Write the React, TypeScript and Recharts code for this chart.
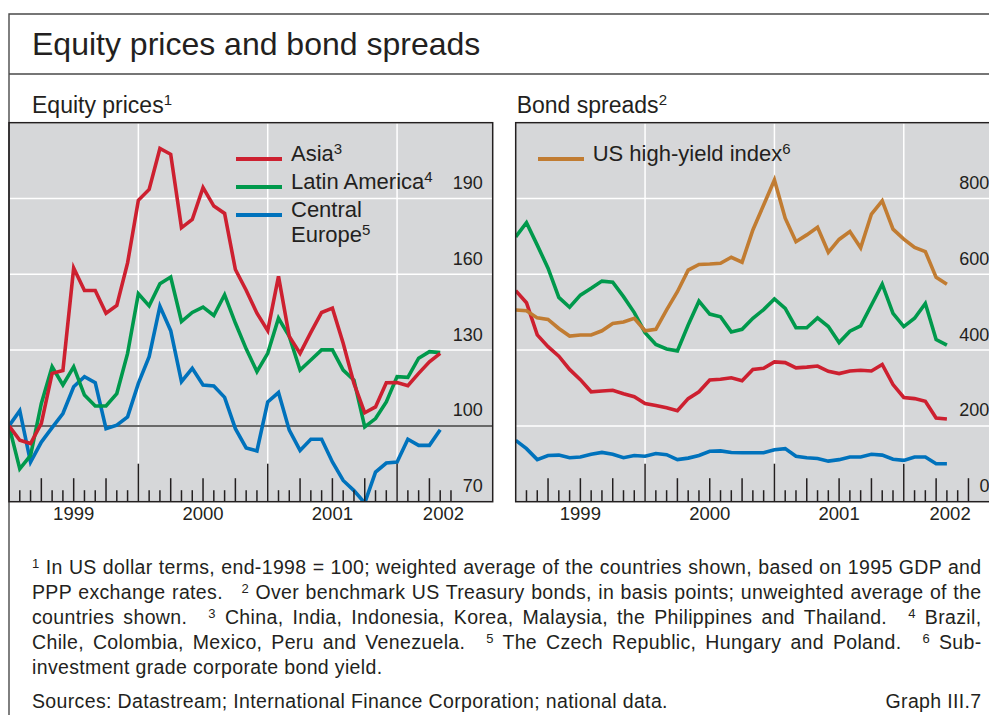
import React from 'react';
import { LineChart, Line, XAxis, YAxis, CartesianGrid, ReferenceLine, Legend } from 'recharts';

// ---------- data ----------
// month index: 0 = end-December 1998 ... 40 = end-April 2002
const months = [0, 1, 2, 3, 4, 5, 6, 7, 8, 9, 10, 11, 12, 13, 14, 15, 16, 17, 18, 19, 20,
  21, 22, 23, 24, 25, 26, 27, 28, 29, 30, 31, 32, 33, 34, 35, 36, 37, 38, 39, 40];

// Equity prices (end-1998 = 100)
const eqAsia = [100, 94.3, 93, 101, 120.8, 121.9, 162.5, 153.6, 153.6, 144.6, 147.7, 164.5, 189.3, 193.6,
  209.8, 207.5, 178.4, 181.7, 194.3, 187, 184.1, 161.9, 153.7, 144.6, 137.7, 159.2, 135.4, 128.7, 137,
  144.9, 146.6, 132.7, 116.8, 105.2, 107.5, 117.1, 117.2, 115.9, 120.8, 125.4, 128.7];
const eqLatAm = [100, 83, 88.3, 108.9, 123.4, 116.2, 123.4, 112.2, 107.9, 107.9, 112.8, 128.7, 152.3, 147.5,
  156.3, 158.9, 141.3, 144.9, 147, 143.7, 151.9, 140.7, 130.5, 121.5, 128.7, 142.6, 135.4, 122.1, 126.1,
  130.1, 130.1, 122.1, 118.1, 99.6, 102.9, 109.5, 119.5, 119.2, 126.8, 129.4, 129];
const eqCentralEurope = [100, 106, 85.7, 93.6, 99.3, 104.9, 115.5, 119.5, 117.1, 98.9, 100.3, 103.6, 116.8,
  127.4, 147.3, 137.7, 117.5, 122.8, 116.2, 115.8, 111.3, 98.9, 91.3, 90.1, 109.5, 113.2, 98.3, 90.3, 94.7,
  94.7, 85.7, 78.4, 74.4, 69.5, 81.7, 85.3, 85.7, 94.7, 92.3, 92.3, 98.5];

// Bond spreads (basis points)
const bdAsia = [557, 525, 440, 409, 384, 349, 322, 290, 292, 294, 285, 277, 259, 254, 248, 240, 272, 290,
  321, 323, 327, 319, 349, 352, 369, 367, 353, 355, 358, 344, 338, 345, 347, 345, 362, 309, 275, 272, 265,
  221, 218];
const bdLatAm = [699, 736, 677, 616, 539, 513, 545, 563, 582, 579, 541, 499, 446, 415, 403, 398, 466, 529,
  495, 488, 448, 455, 484, 507, 535, 510, 459, 459, 485, 462, 420, 450, 464, 519, 574, 497, 462, 484, 523,
  428, 413];
const bdCentralEurope = [162, 140, 111, 122, 123, 116, 118, 125, 130, 125, 116, 122, 120, 127, 124, 111, 115,
  122, 133, 134, 130, 129, 129, 129, 137, 140, 120, 116, 114, 107, 111, 118, 118, 125, 123, 112, 109, 118,
  118, 100, 100];
const bdUSHighYield = [506, 504, 485, 481, 457, 437, 440, 440, 451, 470, 474, 484, 451, 455, 506, 554, 611,
  626, 627, 629, 645, 632, 717, 783, 849, 748, 686, 704, 724, 658, 692, 713, 670, 759, 794, 719, 693, 671,
  660, 592, 574];

// axes
const eqMonthTicks = [1, 2, 3, 4, 5, 6, 7, 8, 9, 10, 11, 12, 13, 14, 15, 16, 17, 18, 19, 20, 21, 22, 23, 24,
  25, 26, 27, 28, 29, 30, 31, 32, 33, 34, 35, 36, 37, 38, 39, 40, 41];
const bdMonthTicks = [1, 2, 3, 4, 5, 6, 7, 8, 9, 10, 11, 12, 13, 14, 15, 16, 17, 18, 19, 20, 21, 22, 23, 24,
  25, 26, 27, 28, 29, 30, 31, 32, 33, 34, 35, 36, 37, 38, 39, 40, 41, 42];
const yearBoundaries = [12, 24, 36];
const yearLabels = ['1999', '2000', '2001', '2002'];
const yearLabelPos = [6, 18, 30, 40.3];
const eqValueTicks = [70, 100, 130, 160, 190];
const bdValueTicks = [0, 200, 400, 600, 800];
const eqDomain = [70, 220];
const bdDomain = [0, 1000];
const monthDomain = [0, 44.87];

// legend texts
const eqLegendNames = ['Asia', 'Latin America', 'Central\nEurope'];
const eqLegendNotes = ['3', '4', '5'];
const bdLegendNames = ['US high-yield index'];
const bdLegendNotes = ['6'];

// ---------- styles ----------
const FONT = '"Liberation Sans", Arial, Helvetica, sans-serif';
const INK = '#231f20';
const PLOT_BG = '#d6d7d9';
const RED = '#cd2030';
const GREEN = '#00994c';
const BLUE = '#0072bc';
const ORANGE = '#c17c32';
const LINE_W = 3.6;
const PLOT_TOP = 122.7;
const PLOT_BOTTOM = 501.7;

const eqData = months.map((m, i) => ({ m, asia: eqAsia[i], latam: eqLatAm[i], ce: eqCentralEurope[i] }));
const bdData = months.map((m, i) => ({
  m, asia: bdAsia[i], latam: bdLatAm[i], ce: bdCentralEurope[i], hy: bdUSHighYield[i],
}));

function MonthTick(props: any) {
  const { x, payload } = props;
  const v = payload.value;
  const len = v % 12 === 0 ? 38 : v % 3 === 0 ? 23.5 : 11.5;
  return <line x1={x} x2={x} y1={PLOT_BOTTOM} y2={PLOT_BOTTOM - len} stroke={INK} strokeWidth={1.5} />;
}

function YearTick(props: any) {
  const { x, payload } = props;
  const label = yearLabels[yearLabelPos.indexOf(payload.value)];
  return (
    <text x={x} y={PLOT_BOTTOM + 18.3} textAnchor="middle" fontFamily={FONT} fontSize={18.5} fill={INK}>
      {label}
    </text>
  );
}

const makeValueTick = (labelRight: number) => (props: any) => (
  <text x={labelRight} y={props.y - 9.5} textAnchor="end" fontFamily={FONT} fontSize={18} fill={INK}>
    {props.payload.value}
  </text>
);

function LegendBlock({ names, notes, colors }: { names: string[]; notes: string[]; colors: string[] }) {
  return (
    <div style={{ fontFamily: FONT, fontSize: 22, lineHeight: '25px', color: INK }}>
      {names.map((n, i) => (
        <div key={n} style={{ position: 'relative', paddingLeft: 55, marginBottom: 3, whiteSpace: 'pre-line' }}>
          <div style={{ position: 'absolute', left: 0, top: 16.1, width: 46, height: 4, background: colors[i] }} />
          {n}
          <span style={{ fontSize: 15, lineHeight: 0, position: 'relative', top: -7 }}>{notes[i]}</span>
        </div>
      ))}
    </div>
  );
}

function Sup({ n }: { n: string }) {
  return <span style={{ fontSize: 13, lineHeight: 0, position: 'relative', top: -6 }}>{n}</span>;
}
function Gap() {
  return <span style={{ display: 'inline-block', width: 12, height: 1 }} />;
}

export default function App() {
  const justified: React.CSSProperties = { textAlign: 'justify', textAlignLast: 'justify', whiteSpace: 'nowrap', height: 25 };
  return (
    <div style={{ position: 'absolute', left: 0, top: 0, width: 989, height: 715, overflow: 'hidden', background: '#fff' }}>
      {/* Equity prices */}
      <div style={{ position: 'absolute', left: 0, top: 0 }}>
        <LineChart width={500} height={540} data={eqData} margin={{ top: PLOT_TOP, right: 7.3, bottom: 8.3, left: 9 }}>
          <CartesianGrid vertical={false} stroke="#ffffff" strokeWidth={1.5} fill={PLOT_BG} fillOpacity={1} />
          {yearBoundaries.map((b) => (
            <ReferenceLine key={b} x={b} stroke="#ffffff" strokeWidth={1.5} />
          ))}
          <ReferenceLine y={100} stroke="#3a3a3a" strokeWidth={1.5} />
          <XAxis dataKey="m" type="number" domain={monthDomain} allowDataOverflow ticks={eqMonthTicks} interval={0}
            tick={MonthTick} tickLine={false} axisLine={false} mirror height={1} />
          <XAxis xAxisId="yr" dataKey="m" type="number" domain={monthDomain} allowDataOverflow ticks={yearLabelPos}
            interval={0} tick={YearTick} tickLine={false} axisLine={false} height={30} />
          <YAxis type="number" domain={eqDomain} allowDataOverflow ticks={eqValueTicks} interval={0} orientation="right"
            mirror width={1} tick={makeValueTick(482.7)} tickLine={false} axisLine={false} />
          <Line dataKey="ce" stroke={BLUE} strokeWidth={LINE_W} dot={false} isAnimationActive={false} />
          <Line dataKey="latam" stroke={GREEN} strokeWidth={LINE_W} dot={false} isAnimationActive={false} />
          <Line dataKey="asia" stroke={RED} strokeWidth={LINE_W} dot={false} isAnimationActive={false} />
          <Legend layout="vertical" align="center" verticalAlign="middle" wrapperStyle={{ left: 236, top: 141 }}
            content={() => <LegendBlock names={eqLegendNames} notes={eqLegendNotes} colors={[RED, GREEN, BLUE]} />} />
        </LineChart>
      </div>

      {/* Bond spreads */}
      <div style={{ position: 'absolute', left: 500, top: 0 }}>
        <LineChart width={510} height={540} data={bdData} margin={{ top: PLOT_TOP, right: 10.6, bottom: 8.3, left: 15.7 }}>
          <CartesianGrid vertical={false} stroke="#ffffff" strokeWidth={1.5} fill={PLOT_BG} fillOpacity={1} />
          {yearBoundaries.map((b) => (
            <ReferenceLine key={b} x={b} stroke="#ffffff" strokeWidth={1.5} />
          ))}
          <XAxis dataKey="m" type="number" domain={monthDomain} allowDataOverflow ticks={bdMonthTicks} interval={0}
            tick={MonthTick} tickLine={false} axisLine={false} mirror height={1} />
          <XAxis xAxisId="yr" dataKey="m" type="number" domain={monthDomain} allowDataOverflow ticks={yearLabelPos}
            interval={0} tick={YearTick} tickLine={false} axisLine={false} height={30} />
          <YAxis type="number" domain={bdDomain} allowDataOverflow ticks={bdValueTicks} interval={0} orientation="right"
            mirror width={1} tick={makeValueTick(489.4)} tickLine={false} axisLine={false} />
          <Line dataKey="ce" stroke={BLUE} strokeWidth={LINE_W} dot={false} isAnimationActive={false} />
          <Line dataKey="asia" stroke={RED} strokeWidth={LINE_W} dot={false} isAnimationActive={false} />
          <Line dataKey="latam" stroke={GREEN} strokeWidth={LINE_W} dot={false} isAnimationActive={false} />
          <Line dataKey="hy" stroke={ORANGE} strokeWidth={LINE_W} dot={false} isAnimationActive={false} />
          <Legend layout="vertical" align="center" verticalAlign="middle" wrapperStyle={{ left: 37.7, top: 141 }}
            content={() => <LegendBlock names={bdLegendNames} notes={bdLegendNotes} colors={[ORANGE]} />} />
        </LineChart>
      </div>

      {/* frame, borders, headings */}
      <svg width={989} height={715} style={{ position: 'absolute', left: 0, top: 0, pointerEvents: 'none' }}>
        <path d="M9 716 V14 H990 M9 74 H990" stroke="#4a4a4a" strokeWidth={1.4} fill="none" />
        <rect x={9} y={PLOT_TOP} width={483.7} height={PLOT_BOTTOM - PLOT_TOP} fill="none" stroke={INK} strokeWidth={1.5} />
        <rect x={515.7} y={PLOT_TOP} width={483.7} height={PLOT_BOTTOM - PLOT_TOP} fill="none" stroke={INK} strokeWidth={1.5} />
        <text x={32} y={55} fontFamily={FONT} fontSize={32} fill={INK}>Equity prices and bond spreads</text>
        <text x={32} y={112.7} fontFamily={FONT} fontSize={23} fill={INK}>
          Equity prices<tspan fontSize={15} dy={-8}>1</tspan>
        </text>
        <text x={516.7} y={112.7} fontFamily={FONT} fontSize={23} fill={INK}>
          Bond spreads<tspan fontSize={15} dy={-8}>2</tspan>
        </text>
      </svg>

      {/* footnotes */}
      <div style={{ position: 'absolute', left: 32, top: 555, width: 949.5, fontFamily: FONT, fontSize: 19.5,
        lineHeight: '25px', color: INK, letterSpacing: 0.35 }}>
        <div style={justified}>
          <Sup n="1" /> In US dollar terms, end-1998 = 100; weighted average of the countries shown, based on 1995 GDP and
        </div>
        <div style={justified}>
          PPP exchange rates. <Gap /><Sup n="2" /> Over benchmark US Treasury bonds, in basis points; unweighted average of the
        </div>
        <div style={justified}>
          countries shown. <Gap /><Sup n="3" /> China, India, Indonesia, Korea, Malaysia, the Philippines and Thailand. <Gap /><Sup n="4" /> Brazil,
        </div>
        <div style={justified}>
          Chile, Colombia, Mexico, Peru and Venezuela. <Gap /><Sup n="5" /> The Czech Republic, Hungary and Poland. <Gap /><Sup n="6" /> Sub-
        </div>
        <div style={{ height: 25 }}>investment grade corporate bond yield.</div>
        <div style={{ display: 'flex', justifyContent: 'space-between', marginTop: 9, height: 25 }}>
          <span>Sources: Datastream; International Finance Corporation; national data.</span>
          <span>Graph III.7</span>
        </div>
      </div>
    </div>
  );
}
